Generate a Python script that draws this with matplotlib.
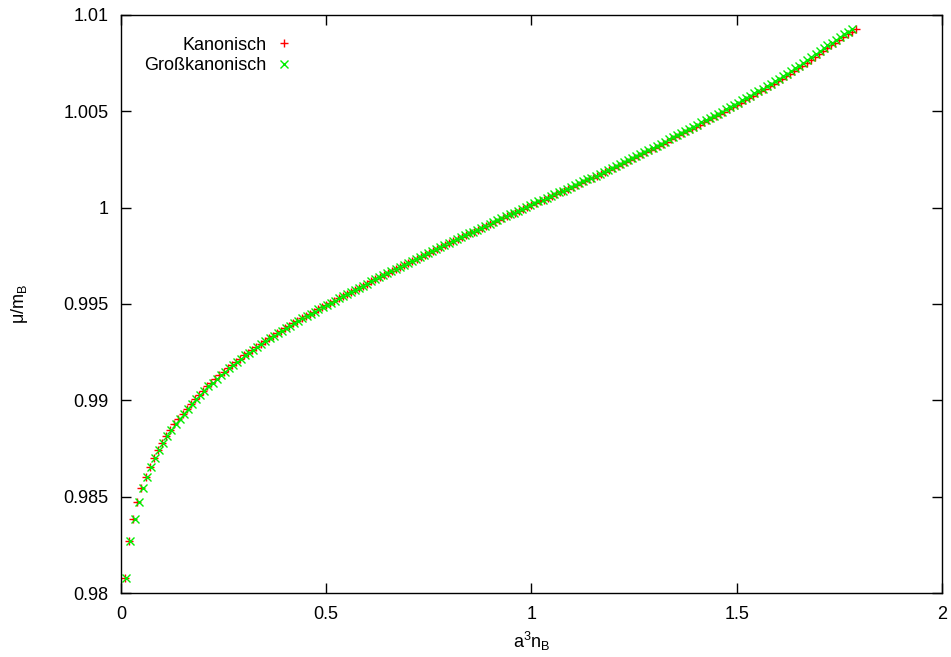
import matplotlib.pyplot as plt
from matplotlib.ticker import FormatStrFormatter, MultipleLocator

plt.rcParams.update({'font.family': ['Liberation Sans', 'DejaVu Sans'],
                     'font.size': 13,
                     'mathtext.default': 'regular'})

# Kanonisch: a^3 n_B and mu/m_B
n_kan = [0.01, 0.02, 0.03, 0.04, 0.05, 0.06, 0.07, 0.08, 0.09, 0.10,
         0.11, 0.12, 0.13, 0.14, 0.15, 0.16, 0.17, 0.18, 0.19, 0.20,
         0.21, 0.22, 0.23, 0.24, 0.25, 0.26, 0.27, 0.28, 0.29, 0.30,
         0.31, 0.32, 0.33, 0.34, 0.35, 0.36, 0.37, 0.38, 0.39, 0.40,
         0.41, 0.42, 0.43, 0.44, 0.45, 0.46, 0.47, 0.48, 0.49, 0.50,
         0.51, 0.52, 0.53, 0.54, 0.55, 0.56, 0.57, 0.58, 0.59, 0.60,
         0.61, 0.62, 0.63, 0.64, 0.65, 0.66, 0.67, 0.68, 0.69, 0.70,
         0.71, 0.72, 0.73, 0.74, 0.75, 0.76, 0.77, 0.78, 0.79, 0.80,
         0.81, 0.82, 0.83, 0.84, 0.85, 0.86, 0.87, 0.88, 0.89, 0.90,
         0.91, 0.92, 0.93, 0.94, 0.95, 0.96, 0.97, 0.98, 0.99, 1.00,
         1.01, 1.02, 1.03, 1.04, 1.05, 1.06, 1.07, 1.08, 1.09, 1.10,
         1.11, 1.12, 1.13, 1.14, 1.15, 1.16, 1.17, 1.18, 1.19, 1.20,
         1.21, 1.22, 1.23, 1.24, 1.25, 1.26, 1.27, 1.28, 1.29, 1.30,
         1.31, 1.32, 1.33, 1.34, 1.35, 1.36, 1.37, 1.38, 1.39, 1.40,
         1.41, 1.42, 1.43, 1.44, 1.45, 1.46, 1.47, 1.48, 1.49, 1.50,
         1.51, 1.52, 1.53, 1.54, 1.55, 1.56, 1.57, 1.58, 1.59, 1.60,
         1.61, 1.62, 1.63, 1.64, 1.65, 1.66, 1.67, 1.68, 1.69, 1.70,
         1.71, 1.72, 1.73, 1.74, 1.75, 1.76, 1.77, 1.78, 1.79]

mu = [0.98078, 0.98268, 0.98385, 0.98473, 0.98544, 0.98604, 0.98656, 0.98702, 0.98743, 0.98780,
      0.98814, 0.98846, 0.98876, 0.98904, 0.98931, 0.98957, 0.98982, 0.99006, 0.99029, 0.99051,
      0.99072, 0.99092, 0.99112, 0.99131, 0.99149, 0.99167, 0.99184, 0.99201, 0.99217, 0.99233,
      0.99248, 0.99263, 0.99278, 0.99293, 0.99307, 0.99321, 0.99335, 0.99349, 0.99362, 0.99375,
      0.99388, 0.99401, 0.99413, 0.99425, 0.99437, 0.99449, 0.99461, 0.99473, 0.99485, 0.99496,
      0.99507, 0.99518, 0.99529, 0.99540, 0.99551, 0.99562, 0.99573, 0.99584, 0.99595, 0.99606,
      0.99617, 0.99628, 0.99639, 0.99650, 0.99660, 0.99671, 0.99681, 0.99692, 0.99702, 0.99713,
      0.99723, 0.99734, 0.99744, 0.99755, 0.99765, 0.99775, 0.99786, 0.99796, 0.99806, 0.99816,
      0.99826, 0.99836, 0.99846, 0.99856, 0.99866, 0.99876, 0.99886, 0.99896, 0.99906, 0.99916,
      0.99926, 0.99936, 0.99945, 0.99955, 0.99965, 0.99974, 0.99984, 0.99994, 1.00003, 1.00013,
      1.00022, 1.00032, 1.00041, 1.00051, 1.00060, 1.00070, 1.00079, 1.00089, 1.00098, 1.00108,
      1.00118, 1.00127, 1.00137, 1.00147, 1.00156, 1.00166, 1.00176, 1.00185, 1.00195, 1.00205,
      1.00215, 1.00225, 1.00235, 1.00245, 1.00256, 1.00266, 1.00277, 1.00288, 1.00299, 1.00310,
      1.00321, 1.00332, 1.00343, 1.00354, 1.00365, 1.00376, 1.00387, 1.00398, 1.00409, 1.00420,
      1.00431, 1.00442, 1.00453, 1.00464, 1.00475, 1.00487, 1.00499, 1.00511, 1.00522, 1.00534,
      1.00545, 1.00557, 1.00569, 1.00581, 1.00593, 1.00605, 1.00617, 1.00629, 1.00642, 1.00655,
      1.00668, 1.00681, 1.00695, 1.00709, 1.00723, 1.00737, 1.00752, 1.00767, 1.00782, 1.00798,
      1.00813, 1.00828, 1.00843, 1.00857, 1.00871, 1.00885, 1.00899, 1.00913, 1.00927]

# Grosskanonisch: same chemical potentials, slightly different densities
n_gross = [0.013, 0.023, 0.033, 0.043, 0.053, 0.063, 0.073, 0.083, 0.093, 0.103,
           0.113, 0.123, 0.133, 0.143, 0.153, 0.163, 0.173, 0.183, 0.193, 0.203,
           0.213, 0.223, 0.233, 0.243, 0.253, 0.263, 0.273, 0.283, 0.293, 0.303,
           0.312, 0.322, 0.332, 0.342, 0.352, 0.362, 0.372, 0.382, 0.392, 0.402,
           0.412, 0.422, 0.432, 0.442, 0.452, 0.462, 0.472, 0.481, 0.491, 0.501,
           0.511, 0.521, 0.531, 0.541, 0.550, 0.560, 0.570, 0.580, 0.590, 0.600,
           0.610, 0.620, 0.629, 0.639, 0.649, 0.659, 0.669, 0.679, 0.689, 0.699,
           0.709, 0.719, 0.729, 0.739, 0.749, 0.758, 0.768, 0.778, 0.788, 0.798,
           0.808, 0.818, 0.828, 0.838, 0.848, 0.858, 0.868, 0.878, 0.888, 0.898,
           0.907, 0.917, 0.927, 0.937, 0.947, 0.957, 0.967, 0.977, 0.987, 0.997,
           1.007, 1.017, 1.027, 1.037, 1.047, 1.056, 1.066, 1.076, 1.086, 1.096,
           1.106, 1.116, 1.126, 1.136, 1.146, 1.156, 1.166, 1.176, 1.186, 1.196,
           1.205, 1.215, 1.225, 1.235, 1.245, 1.255, 1.265, 1.275, 1.285, 1.295,
           1.305, 1.315, 1.325, 1.335, 1.345, 1.354, 1.364, 1.374, 1.384, 1.394,
           1.404, 1.414, 1.424, 1.434, 1.444, 1.454, 1.464, 1.474, 1.484, 1.494,
           1.503, 1.513, 1.523, 1.533, 1.543, 1.553, 1.563, 1.573, 1.583, 1.593,
           1.603, 1.613, 1.622, 1.632, 1.642, 1.652, 1.662, 1.672, 1.682, 1.692,
           1.702, 1.712, 1.721, 1.731, 1.741, 1.751, 1.761, 1.771, 1.781]

fig = plt.figure(figsize=(9.51, 6.57), dpi=100)
ax = fig.add_axes([0.1272, 0.0974, 0.8633, 0.8798])

ax.plot(n_kan, mu, '+', color='#ff0000', ms=6, mew=1.0, label='Kanonisch')
ax.plot(n_gross, mu, 'x', color='#00ee00', ms=5.5, mew=1.0, label='Großkanonisch')

ax.set_xlim(0, 2)
ax.set_ylim(0.98, 1.01)
ax.xaxis.set_major_locator(MultipleLocator(0.5))
ax.yaxis.set_major_locator(MultipleLocator(0.005))
ax.xaxis.set_major_formatter(FormatStrFormatter('%g'))
ax.yaxis.set_major_formatter(FormatStrFormatter('%g'))
ax.tick_params(direction='in', length=7, width=1, top=True, right=True)
ax.tick_params(axis='y', pad=9)
ax.tick_params(axis='x', pad=9)
for s in ax.spines.values():
    s.set_linewidth(1.0)

ax.set_xlabel('a$^3$n$_B$', labelpad=5)
ax.set_ylabel('μ/m$_B$', labelpad=24)

ax.legend(loc='upper left', bbox_to_anchor=(0.02, 0.975), frameon=False,
          markerfirst=False, handlelength=0.9, handletextpad=0.5,
          labelspacing=0.2, borderaxespad=0, alignment='right')

fig.savefig('out.png', dpi=100)
